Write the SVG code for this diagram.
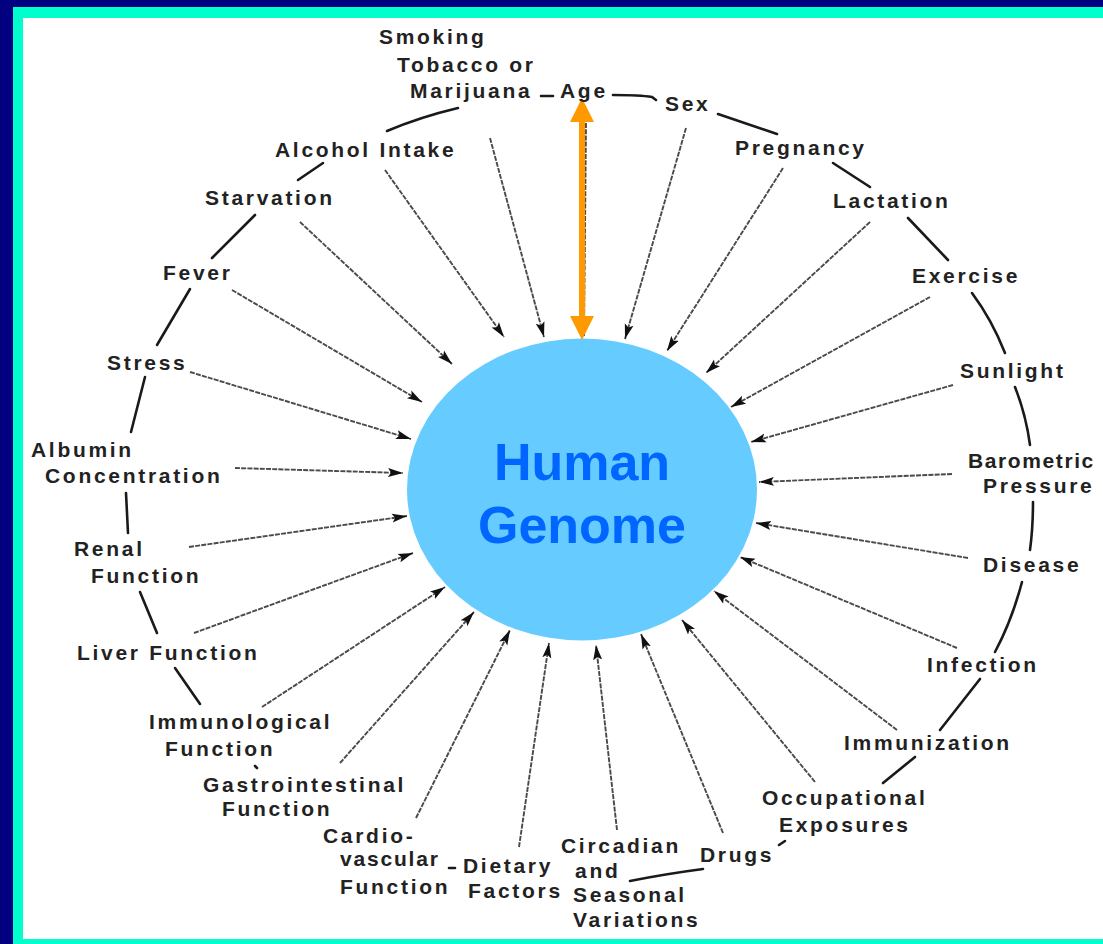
<svg xmlns="http://www.w3.org/2000/svg" width="1103" height="944" viewBox="0 0 1103 944">
<style>
.lb{font-family:"Liberation Sans",Arial,sans-serif;font-weight:bold;font-size:21px;letter-spacing:2.7px;fill:#222}
.ring{fill:none;stroke:#1a1a1a;stroke-width:2.6;stroke-linecap:round}
.ar{fill:none;stroke:#4a4a4a;stroke-width:1.9;stroke-dasharray:5 1.2;marker-end:url(#ah)}
.hg{font-family:"Liberation Sans",Arial,sans-serif;font-weight:bold;font-size:52px;fill:#0066FF;text-anchor:middle}
</style>
<defs>
<marker id="ah" markerUnits="userSpaceOnUse" markerWidth="16" markerHeight="10" refX="15" refY="5" orient="auto">
<path d="M0,0.5 L15,5 L0,9.5 L3,5 z" fill="#111"/>
</marker>
</defs>
<rect x="0" y="0" width="1103" height="944" fill="#000080"/>
<rect x="13" y="7" width="1090" height="937" fill="#00FFCC"/>
<rect x="23" y="18" width="1080" height="921" fill="#FFFFFF"/>

<g id="connectors">
<path class="ring" d="M387,131 Q420,117 458,108"/>
<path class="ring" d="M541,96 L553,96"/>
<path class="ring" d="M613,95 Q640,95 652,97 L656,100"/>
<path class="ring" d="M718,114 L777,134"/>
<path class="ring" d="M833,163 L870,187"/>
<path class="ring" d="M908,218 L948,260"/>
<path class="ring" d="M972,293 Q992,320 1005,353"/>
<path class="ring" d="M1015,387 Q1026,415 1030,445"/>
<path class="ring" d="M1033,502 Q1033,528 1030,550"/>
<path class="ring" d="M1022,582 Q1012,620 995,652"/>
<path class="ring" d="M980,679 L940,730"/>
<path class="ring" d="M915,757 L883,783"/>
<path class="ring" d="M779,845 L785,841"/>
<path class="ring" d="M703,869 Q665,874 630,881"/>
<path class="ring" d="M449,868 L455,868"/>
<path class="ring" d="M255,766 L257,768"/>
<path class="ring" d="M175,668 L200,704"/>
<path class="ring" d="M140,592 L157,633"/>
<path class="ring" d="M126,493 L128,533"/>
<path class="ring" d="M145,377 L131,432"/>
<path class="ring" d="M190,289 L157,345"/>
<path class="ring" d="M255,215 L212,258"/>
<path class="ring" d="M323,163 L298,180"/>

<line class="ar" x1="190" y1="372" x2="411" y2="439"/>
<line class="ar" x1="232" y1="290" x2="422" y2="402"/>
<line class="ar" x1="300" y1="222" x2="452" y2="364"/>
<line class="ar" x1="385" y1="170" x2="504" y2="337"/>
<line class="ar" x1="490" y1="138" x2="544" y2="337"/>
<line class="ar" x1="586" y1="123" x2="584" y2="336"/>
<line class="ar" x1="686" y1="128" x2="625" y2="339"/>
<line class="ar" x1="783" y1="168" x2="667" y2="351"/>
<line class="ar" x1="870" y1="222" x2="706" y2="373"/>
<line class="ar" x1="930" y1="297" x2="731" y2="407"/>
<line class="ar" x1="953" y1="385" x2="751" y2="442"/>
<line class="ar" x1="952" y1="474" x2="759" y2="482"/>
<line class="ar" x1="968" y1="558" x2="756" y2="523"/>
<line class="ar" x1="957" y1="648" x2="740" y2="557"/>
<line class="ar" x1="897" y1="730" x2="714" y2="591"/>
<line class="ar" x1="815" y1="782" x2="682" y2="620"/>
<line class="ar" x1="723" y1="833" x2="641" y2="634"/>
<line class="ar" x1="617" y1="830" x2="596" y2="645"/>
<line class="ar" x1="519" y1="847" x2="549" y2="643"/>
<line class="ar" x1="416" y1="818" x2="510" y2="630"/>
<line class="ar" x1="340" y1="763" x2="474" y2="612"/>
<line class="ar" x1="262" y1="707" x2="445" y2="587"/>
<line class="ar" x1="194" y1="633" x2="413" y2="553"/>
<line class="ar" x1="189" y1="547" x2="407" y2="516"/>
<line class="ar" x1="235" y1="468" x2="403" y2="473"/>
</g>

<g id="genome">
<ellipse cx="582" cy="489.5" rx="175" ry="151" fill="#66CCFF"/>
<text class="hg" x="582" y="480">Human</text>
<text class="hg" x="582" y="543">Genome</text>
</g>

<g id="age-arrow">
<rect x="579" y="120" width="6" height="198" fill="#FF9900"/>
<polygon points="582,98 570,122 594,122" fill="#FF9900"/>
<polygon points="582,340 570,316 594,316" fill="#FF9900"/>
</g>

<g id="smoking"><text class="lb" x="379" y="44">Smoking</text><text class="lb" x="397" y="72">Tobacco or</text><text class="lb" x="410" y="98">Marijuana</text></g>
<g id="age"><text class="lb" x="560" y="98">Age</text></g>
<g id="sex"><text class="lb" x="665" y="111">Sex</text></g>
<g id="pregnancy"><text class="lb" x="735" y="155">Pregnancy</text></g>
<g id="lactation"><text class="lb" x="833" y="208">Lactation</text></g>
<g id="exercise"><text class="lb" x="912" y="283">Exercise</text></g>
<g id="sunlight"><text class="lb" x="960" y="378">Sunlight</text></g>
<g id="barometric"><text class="lb" x="968" y="468" style="letter-spacing:1.6px">Barometric</text><text class="lb" x="983" y="493">Pressure</text></g>
<g id="disease"><text class="lb" x="983" y="572">Disease</text></g>
<g id="infection"><text class="lb" x="927" y="672">Infection</text></g>
<g id="immunization"><text class="lb" x="844" y="750">Immunization</text></g>
<g id="occupational"><text class="lb" x="762" y="805">Occupational</text><text class="lb" x="779" y="832">Exposures</text></g>
<g id="drugs"><text class="lb" x="700" y="862">Drugs</text></g>
<g id="circadian"><text class="lb" x="561" y="853">Circadian</text><text class="lb" x="575" y="878">and</text><text class="lb" x="573" y="902">Seasonal</text><text class="lb" x="573" y="927">Variations</text></g>
<g id="dietary"><text class="lb" x="463" y="873">Dietary</text><text class="lb" x="468" y="898">Factors</text></g>
<g id="cardio"><text class="lb" x="323" y="843">Cardio-</text><text class="lb" x="340" y="866" style="letter-spacing:1.8px">vascular</text><text class="lb" x="340" y="894">Function</text></g>
<g id="gastro"><text class="lb" x="203" y="792">Gastrointestinal</text><text class="lb" x="222" y="816">Function</text></g>
<g id="immunological"><text class="lb" x="149" y="729">Immunological</text><text class="lb" x="165" y="756">Function</text></g>
<g id="liver"><text class="lb" x="77" y="660">Liver Function</text></g>
<g id="renal"><text class="lb" x="74" y="556">Renal</text><text class="lb" x="91" y="583">Function</text></g>
<g id="albumin"><text class="lb" x="31" y="457">Albumin</text><text class="lb" x="45" y="483">Concentration</text></g>
<g id="stress"><text class="lb" x="107" y="370">Stress</text></g>
<g id="fever"><text class="lb" x="163" y="280">Fever</text></g>
<g id="starvation"><text class="lb" x="205" y="205">Starvation</text></g>
<g id="alcohol"><text class="lb" x="275" y="157">Alcohol Intake</text></g>
</svg>
